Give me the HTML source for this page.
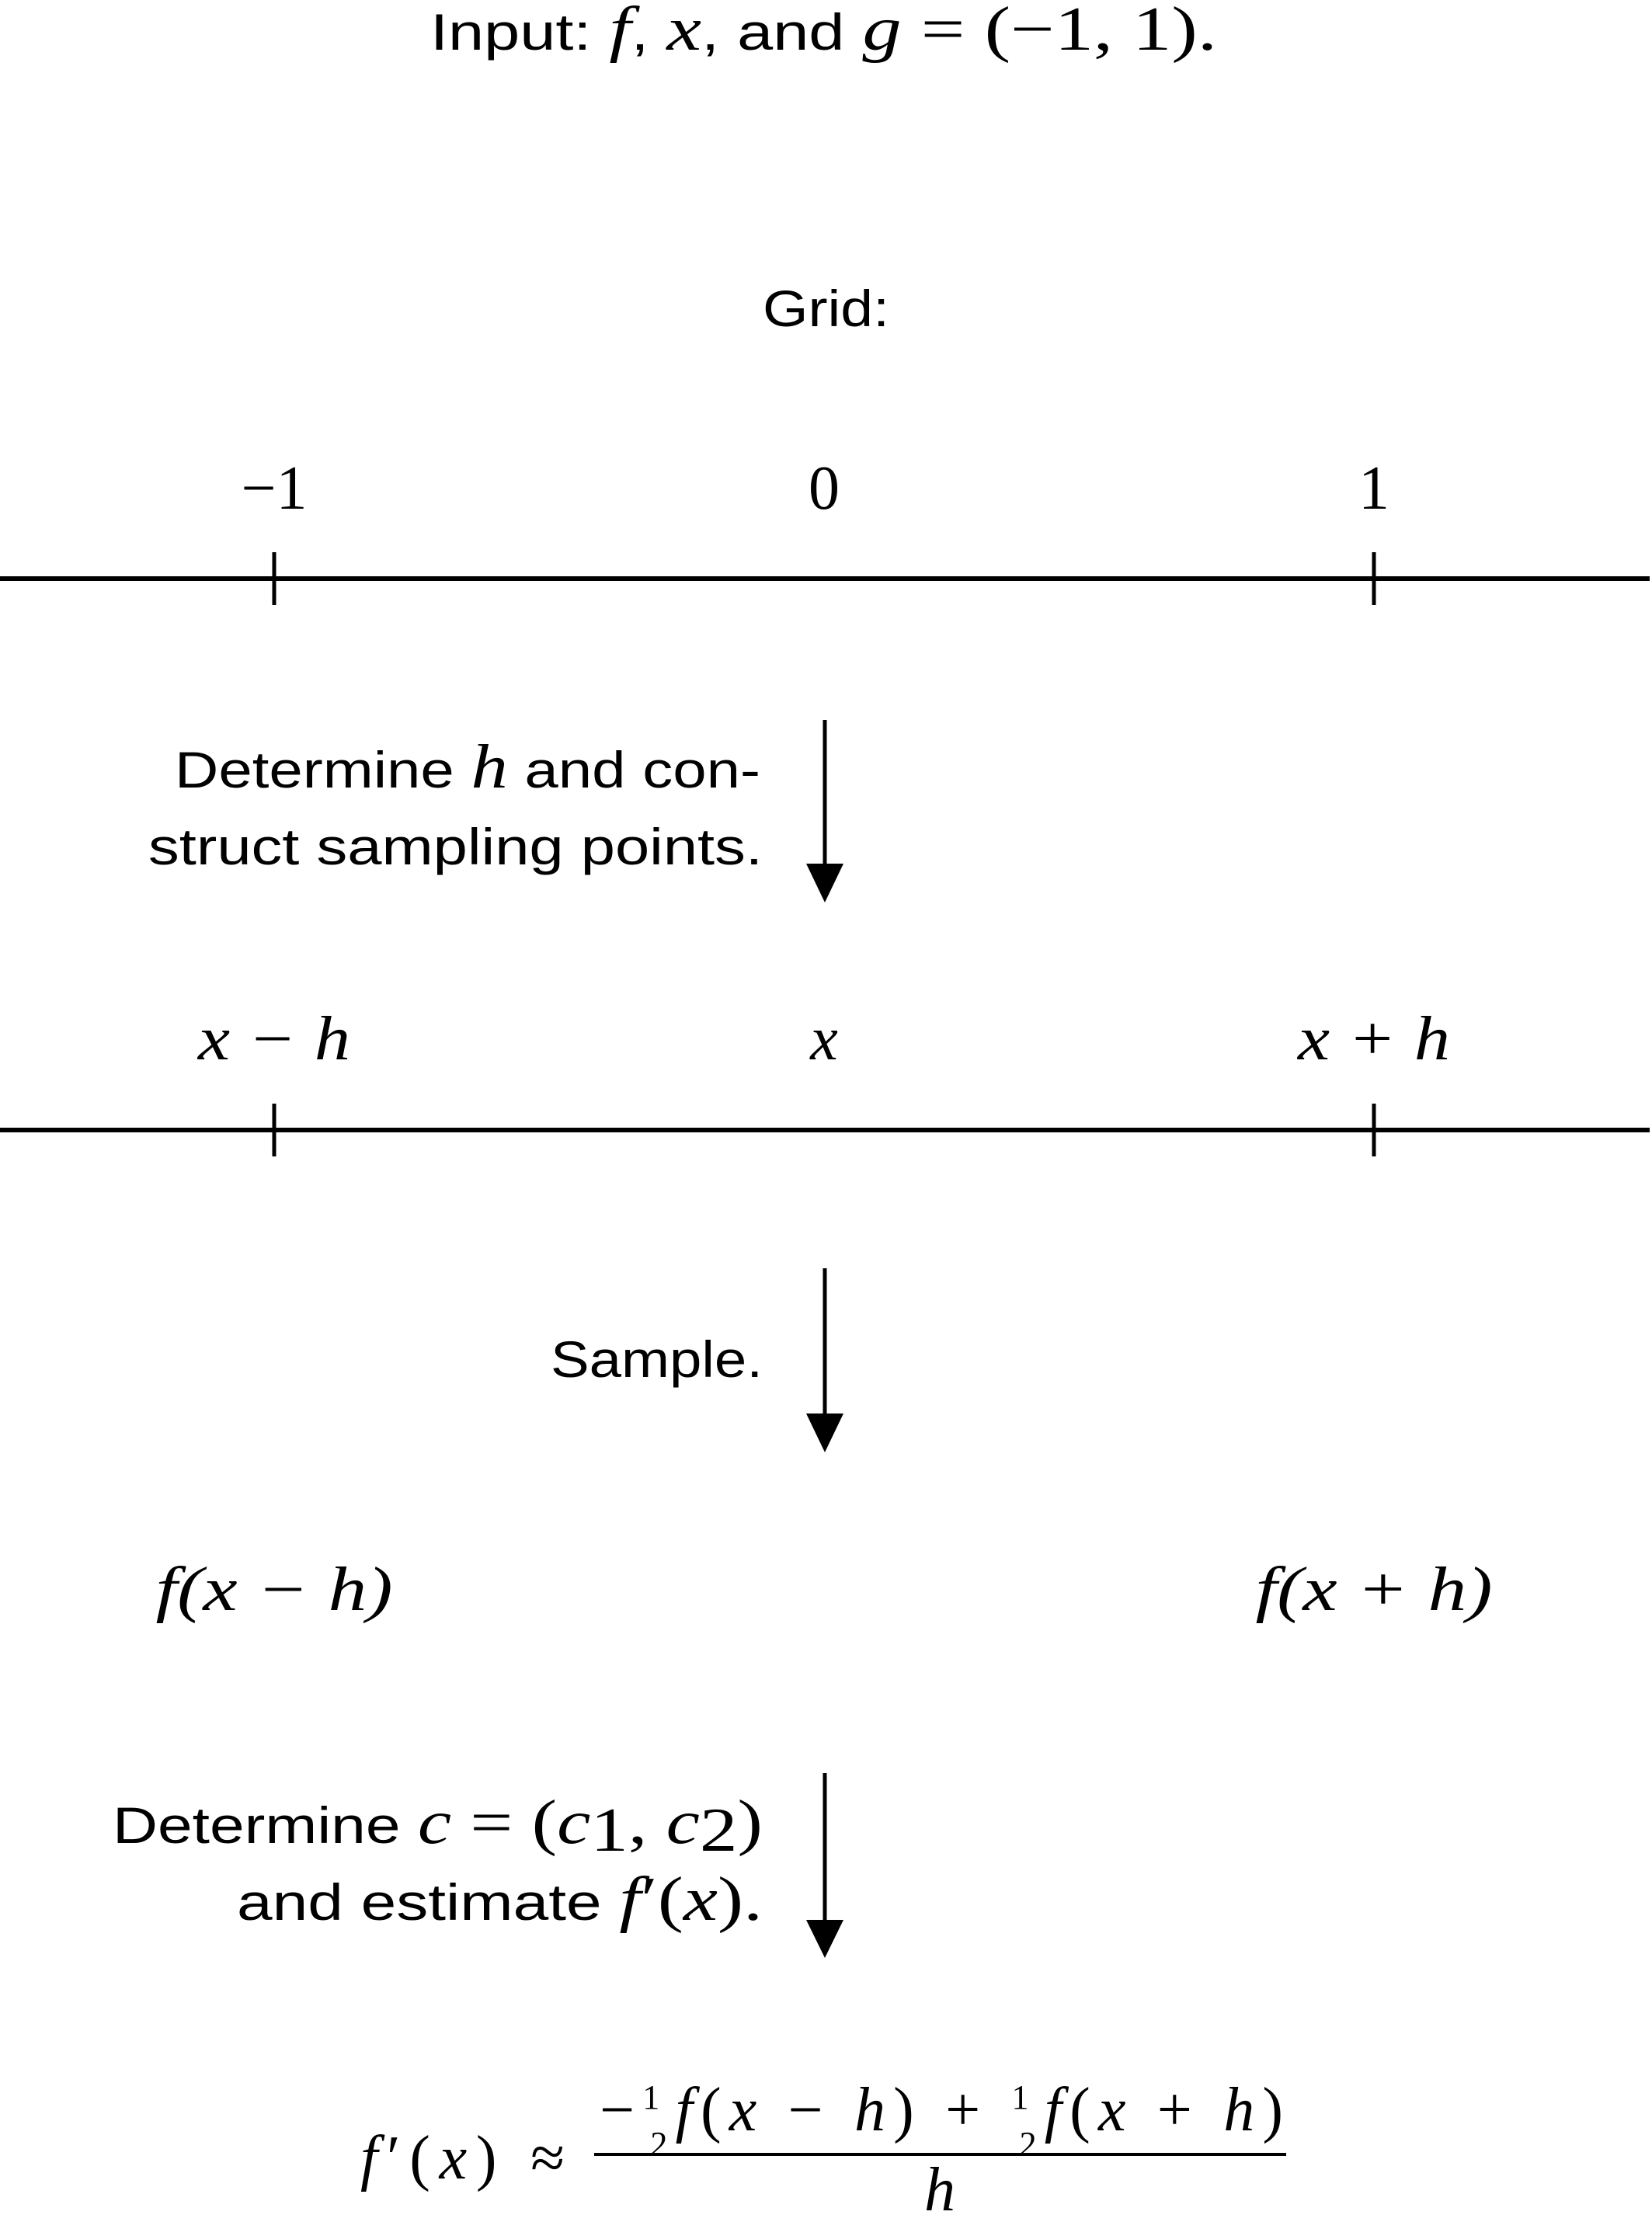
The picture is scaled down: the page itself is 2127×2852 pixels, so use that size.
<!DOCTYPE html>
<html><head><meta charset="utf-8"><style>
html,body{margin:0;padding:0;background:#fff;}
svg{display:block;}
.s{font-family:"Liberation Sans",sans-serif;font-size:66px;fill:#000;}
.m{font-family:"Liberation Serif",serif;font-size:80px;fill:#000;}
.i{font-style:italic;}
</style></head><body>
<svg id="fig" width="2127" height="2852" viewBox="0 0 2127 2852" xmlns="http://www.w3.org/2000/svg">
<text class="s" x="554" y="64" textLength="1013" lengthAdjust="spacingAndGlyphs">Input: <tspan class="m i">f</tspan>, <tspan class="m i">x</tspan>, and <tspan class="m i">g</tspan><tspan class="m"> = (−1, 1).</tspan></text>
<text class="s" x="982" y="420" textLength="163" lengthAdjust="spacingAndGlyphs">Grid:</text>

<line x1="0" y1="745" x2="2124" y2="745" stroke="#000" stroke-width="6"/>
<line x1="0" y1="1455" x2="2124" y2="1455" stroke="#000" stroke-width="6"/>
<g id="labels"></g>

<text class="s" x="225" y="1014" textLength="754" lengthAdjust="spacingAndGlyphs">Determine <tspan class="m i">h</tspan> and con-</text>
<text class="s" x="191" y="1113" textLength="791" lengthAdjust="spacingAndGlyphs">struct sampling points.</text>
<text class="s" x="709" y="1773" textLength="273" lengthAdjust="spacingAndGlyphs">Sample.</text>
<text class="s" x="145" y="2373" textLength="837" lengthAdjust="spacingAndGlyphs">Determine <tspan class="m i">c</tspan><tspan class="m">  =  (</tspan><tspan class="m i">c</tspan><tspan class="m" font-size="52" dy="10">1</tspan><tspan class="m" dy="-10">, </tspan><tspan class="m i">c</tspan><tspan class="m" font-size="52" dy="10">2</tspan><tspan class="m" dy="-10">)</tspan></text>
<text class="s" x="305" y="2472" textLength="677" lengthAdjust="spacingAndGlyphs">and estimate <tspan class="m i">f</tspan><tspan class="m">′(</tspan><tspan class="m i">x</tspan><tspan class="m">).</tspan></text>

<g>
<line x1="1062" y1="927" x2="1062" y2="1120" stroke="#000" stroke-width="5"/>
<polygon points="1038,1112 1086,1112 1062,1162" fill="#000"/></g>
<g>
<line x1="1062" y1="1633" x2="1062" y2="1830" stroke="#000" stroke-width="5"/>
<polygon points="1038,1820 1086,1820 1062,1870" fill="#000"/></g>
<g>
<line x1="1062" y1="2283" x2="1062" y2="2480" stroke="#000" stroke-width="5"/>
<polygon points="1038,2472 1086,2472 1062,2521" fill="#000"/></g>

<g>
<text class="m" x="464" y="2805" font-size="78" textLength="263" lengthAdjust="spacing"><tspan class="i">f</tspan>′(<tspan class="i">x</tspan>) ≈</text>
<text class="m" x="772" y="2743" font-size="76" textLength="880" lengthAdjust="spacing">−<tspan font-size="44" dy="-28">1</tspan><tspan font-size="44" dx="-22" dy="60">2</tspan><tspan class="i" dy="-32">f</tspan>(<tspan class="i">x</tspan> − <tspan class="i">h</tspan>) + <tspan font-size="44" dy="-28">1</tspan><tspan font-size="44" dx="-22" dy="60">2</tspan><tspan class="i" dy="-32">f</tspan>(<tspan class="i">x</tspan> + <tspan class="i">h</tspan>)</text>
<line x1="765" y1="2774" x2="1656" y2="2774" stroke="#000" stroke-width="4"/>
<text class="m i" x="1210" y="2846" text-anchor="middle">h</text>
</g>
</svg>
<script>
const gridValues = ["−1", "0", "1"];
const samplingLabels = ["x − h", "x", "x + h"];
const sampleValues = ["f(x − h)", "", "f(x + h)"];
const tickIndices = [0, 2];
const xScale = i => 353 + i * 708;
const NS = "http://www.w3.org/2000/svg";
const g = document.getElementById("labels");
function addText(str, x, y, italic, name, len) {
  const t = document.createElementNS(NS, "text");
  t.setAttribute("x", x); t.setAttribute("y", y);
  t.setAttribute("text-anchor", "middle");
  t.setAttribute("class", italic ? "m i" : "m");
  if (len) { t.setAttribute("textLength", len); t.setAttribute("lengthAdjust", "spacingAndGlyphs"); }
  
  
  t.textContent = str;
  g.appendChild(t);
}
function addTick(x, yc, name) {
  const l = document.createElementNS(NS, "line");
  l.setAttribute("x1", x); l.setAttribute("x2", x);
  l.setAttribute("y1", yc - 34); l.setAttribute("y2", yc + 34);
  l.setAttribute("stroke", "#000"); l.setAttribute("stroke-width", "5");
  
  
  g.appendChild(l);
}
gridValues.forEach((v, i) => addText(v, xScale(i), 655, false, "grid-tick-label", 0));
samplingLabels.forEach((v, i) => addText(v, xScale(i), 1364, true, "sampling-point-label", v.length > 1 ? 196 : 0));
sampleValues.forEach((v, i) => { if (v) addText(v, xScale(i), 2073, true, "sample-value-label", 305); });
tickIndices.forEach(i => { addTick(xScale(i), 745, "grid-tick"); addTick(xScale(i), 1455, "sampling-tick"); });
</script>
</body></html>
